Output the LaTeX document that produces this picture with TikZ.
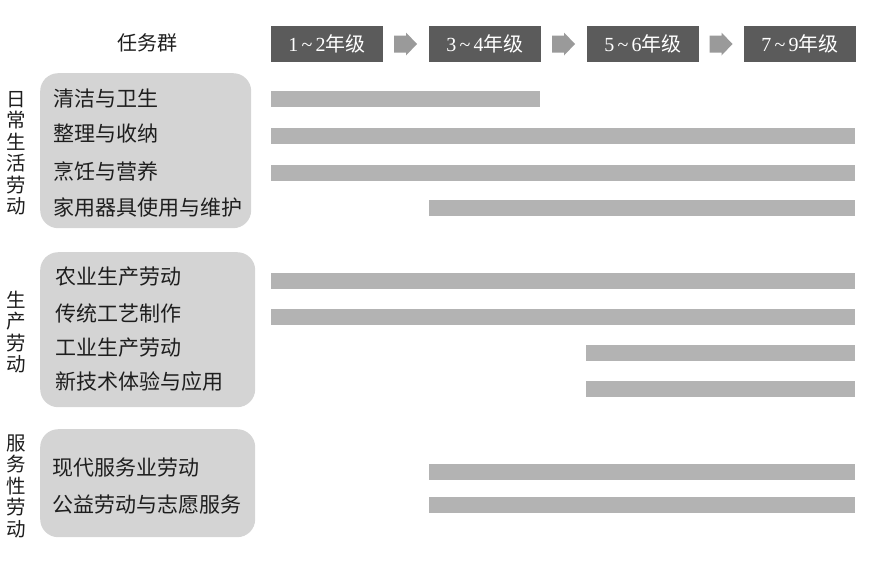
\documentclass[tikz,border=0pt]{standalone}
\usepackage{fontspec}
\setmainfont{Liberation Serif}
\newfontfamily\cjk{Noto Sans CJK SC}
\usetikzlibrary{calc}
\definecolor{hdrgray}{HTML}{5B5B5B}
\definecolor{bargray}{HTML}{B3B3B3}
\definecolor{panelgray}{HTML}{D4D4D4}
\definecolor{arrgray}{HTML}{9A9A9A}
\definecolor{txtdark}{HTML}{1E1E1E}
\tikzset{
  hdrbox/.style={draw=none, fill=hdrgray, minimum width=112pt, minimum height=36pt, inner sep=0pt,
    text=white, font=\fontsize{20}{22}\selectfont},
  stagearrow/.style={fill=arrgray, draw=none},
  barbox/.style={fill=bargray, draw=none, anchor=west, minimum height=16pt, inner sep=0pt},
  panel/.style={fill=panelgray, draw=none, rounded corners=18pt, anchor=north west, inner sep=0pt},
  task/.style={anchor=west, inner sep=0pt, text=txtdark, font=\cjk\fontsize{21}{24}\selectfont},
  vlab/.style={align=center, inner sep=0pt, text=txtdark, font=\cjk\fontsize{19.5}{21.5}\selectfont},
  headlab/.style={inner sep=0pt, text=txtdark, font=\cjk\fontsize{20}{22}\selectfont}
}
\newcommand\gbar[4]{\node[barbox, minimum width={#3-#2}] (#1) at (#2,#4) {};}
\newcommand\grd[2]{{\rmfamily #1\,\textasciitilde\,#2}{\cjk 年级}}
\newcommand\stagearr[3]{%
  \coordinate (#1) at ($ (#2.east)!0.5!(#3.west) $);
  \fill[stagearrow] ($(#1)+(-12,-8.5)$) -- ($(#1)+(0,-8.5)$) -- ($(#1)+(0,-11.5)$)
    -- ($(#1)+(11,0)$) -- ($(#1)+(0,11.5)$) -- ($(#1)+(0,8.5)$) -- ($(#1)+(-12,8.5)$) -- cycle;}
\begin{document}
\begin{tikzpicture}[x=1pt,y=-1pt]
\useasboundingbox (0,0) rectangle (869,560);
% header
\node[headlab] (hdr) at (147,43) {任务群};
\node[hdrbox] (g12) at (327,44) {\grd{1}{2}};
\node[hdrbox] (g34) at (485,44) {\grd{3}{4}};
\node[hdrbox] (g56) at (643,44) {\grd{5}{6}};
\node[hdrbox] (g79) at (800,44) {\grd{7}{9}};
\stagearr{m1}{g12}{g34}
\stagearr{m2}{g34}{g56}
\stagearr{m3}{g56}{g79}
% panels
\node[panel, minimum width=211pt, minimum height=155pt] (p1) at (40,73) {};
\node[panel, minimum width=215pt, minimum height=155pt] (p2) at (40,252) {};
\node[panel, minimum width=215pt, minimum height=108pt] (p3) at (40,429) {};
% vertical group labels
\node[vlab] (v1) at (16,153) {日\\常\\生\\活\\劳\\动};
\node[vlab] (v2) at (16,332) {生\\产\\劳\\动};
\node[vlab] (v3) at (16,486) {服\\务\\性\\劳\\动};
% tasks
\node[task] (t1) at (53,99) {清洁与卫生};
\node[task] (t2) at (53,134) {整理与收纳};
\node[task] (t3) at (53,171) {烹饪与营养};
\node[task] (t4) at (53,207) {家用器具使用与维护};
\node[task] (t5) at (55,277) {农业生产劳动};
\node[task] (t6) at (55,313) {传统工艺制作};
\node[task] (t7) at (55,348) {工业生产劳动};
\node[task] (t8) at (55,382) {新技术体验与应用};
\node[task] (t9) at (52,468) {现代服务业劳动};
\node[task] (t10) at (52,505) {公益劳动与志愿服务};
% bars
\gbar{b1}{271}{540}{99}
\gbar{b2}{271}{855}{136}
\gbar{b3}{271}{855}{173}
\gbar{b4}{429}{855}{208}
\gbar{b5}{271}{855}{280.5}
\gbar{b6}{271}{855}{316.5}
\gbar{b7}{586}{855}{352.5}
\gbar{b8}{586}{855}{388.5}
\gbar{b9}{429}{855}{472}
\gbar{b10}{429}{855}{505}
\end{tikzpicture}
\end{document}
